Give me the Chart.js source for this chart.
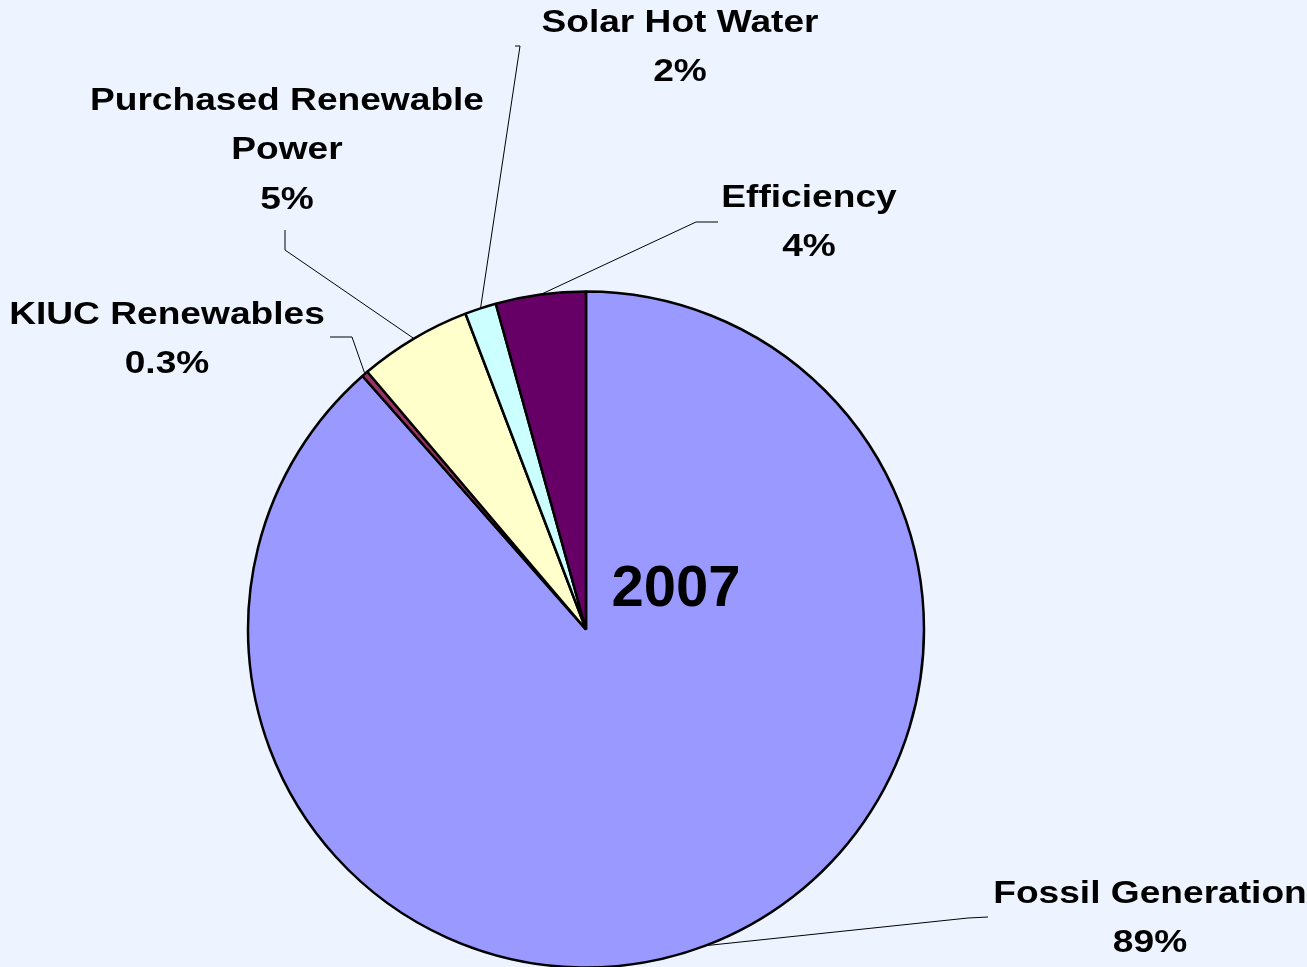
<!DOCTYPE html>
<html>
<head>
<meta charset="utf-8">
<style>
  html, body { margin: 0; padding: 0; background: #EEF4FF; }
  #wrap { width: 1307px; height: 967px; }
</style>
</head>
<body>
<div id="wrap"><canvas id="chartEnergy" width="1307" height="967"></canvas></div>
<script src="https://cdn.jsdelivr.net/npm/chart.js@4.4.0/dist/chart.umd.min.js"></script>
<script>
   // Data (share of total, %)
   const categories = ['Fossil Generation', 'KIUC Renewables', 'Purchased Renewable Power', 'Solar Hot Water', 'Efficiency'];
   const shares = [88.5, 0.3, 5.4, 1.5, 4.3];
   const shareLabels = ['89%', '0.3%', '5%', '2%', '4%'];
   const yearLabel = '2007';

   const sliceColors = ['#9999FF', '#993366', '#FFFFCC', '#CCFFFF', '#660066'];

   // Where each label sits and how its leader line bends (layout only)
   const labelLayout = [
       { x: 1150, y: 894, wrap: 9999, elbow: [[988, 917], [968, 918]] },
       { x: 167,  y: 315, wrap: 9999, elbow: [[330, 337], [352, 337]] },
       { x: 287,  y: 101, wrap: 360,  elbow: [[285, 230], [285, 250]] },
       { x: 680,  y: 23,  wrap: 9999, elbow: [[515, 46], [520, 46]] },
       { x: 809,  y: 198, wrap: 9999, elbow: [[718, 222], [696, 222]] }
   ];
   const labelFont = 'bold 32px "Liberation Sans", Arial, sans-serif';
   const stretchX = 1.16;   // labels in the original look slightly widened
   const lineGap = 49.5;

   function wrapText(ctx, text, maxWidth) {
       const words = text.split(' ');
       const lines = [];
       let cur = '';
       words.forEach(w => {
           const test = cur ? cur + ' ' + w : w;
           if (cur && ctx.measureText(test).width > maxWidth) {
               lines.push(cur);
               cur = w;
           } else {
               cur = test;
           }
       });
       if (cur) lines.push(cur);
       return lines;
   }

   // Draws the callout labels, leader lines and the year in the middle
   const calloutPlugin = {
       id: 'callouts',
       afterDraw(chart) {
           const ctx = chart.ctx;
           const meta = chart.getDatasetMeta(0);
           ctx.save();
           ctx.font = labelFont;
           ctx.textAlign = 'center';
           ctx.textBaseline = 'middle';
           meta.data.forEach((arc, i) => {
               const lay = labelLayout[i];
               const mid = (arc.startAngle + arc.endAngle) / 2;
               const ax = arc.x + Math.cos(mid) * arc.outerRadius;
               const ay = arc.y + Math.sin(mid) * arc.outerRadius;
               ctx.strokeStyle = '#000';
               ctx.lineWidth = 1;
               ctx.beginPath();
               ctx.moveTo(lay.elbow[0][0], lay.elbow[0][1]);
               for (let k = 1; k < lay.elbow.length; k++) ctx.lineTo(lay.elbow[k][0], lay.elbow[k][1]);
               ctx.lineTo(ax, ay);
               ctx.stroke();

               const lines = wrapText(ctx, categories[i], lay.wrap);
               lines.push(shareLabels[i]);
               ctx.fillStyle = '#000';
               lines.forEach((t, k) => {
                   ctx.save();
                   ctx.translate(lay.x, lay.y + k * lineGap);
                   ctx.scale(stretchX, 1);
                   ctx.fillText(t, 0, 0);
                   ctx.restore();
               });
           });
           ctx.font = 'bold 58px "Liberation Sans", Arial, sans-serif';
           ctx.fillText(yearLabel, 676, 590);
           ctx.restore();
       }
   };

   const chartEnergy = new Chart(document.getElementById('chartEnergy'), {
       type: 'pie',
       data: {
           labels: categories,
           datasets: [{
               data: shares,
               backgroundColor: sliceColors,
               borderColor: '#000',
               borderWidth: 2.5,
               radius: 338
           }]
       },
       options: {
           responsive: false,
           animation: false,
           layout: { padding: { left: 248, right: 383, top: 292, bottom: 0 } },
           plugins: {
               legend: { display: false },
               tooltip: { enabled: false }
           }
       },
       plugins: [calloutPlugin]
   });
</script>
</body>
</html>
